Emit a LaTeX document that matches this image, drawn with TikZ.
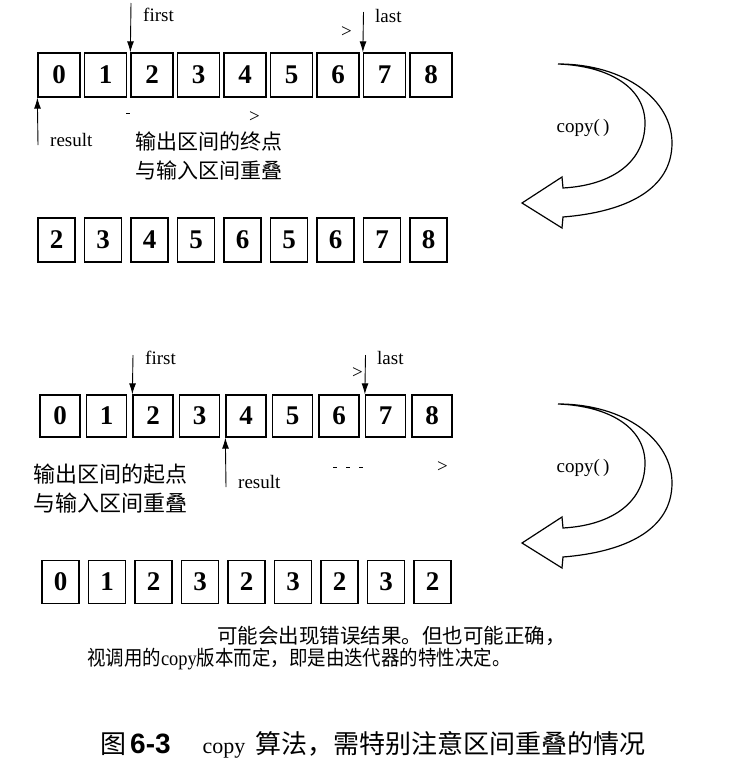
\documentclass[tikz,border=0pt]{standalone}
\usepackage{fontspec}
\usepackage{graphicx}
\setmainfont{Liberation Serif}
\newfontfamily\cjk{Noto Sans CJK SC}
\newfontfamily\hsans{Liberation Sans}
\usetikzlibrary{arrows.meta}
\begin{document}
\begin{tikzpicture}[x=1pt,y=-1pt,
  cell/.style={draw,line width=1.3pt,inner sep=0pt,minimum width=#1,minimum height=44pt,
    font=\fontsize{27}{27}\selectfont\bfseries},
  cell/.default=40pt,
  ptr/.style={line width=0.9pt,-{Latex[length=11pt,width=7pt]}},
  lbl/.style={font=\fontsize{19}{19}\selectfont,inner sep=0pt,anchor=west},
  cn/.style={font=\cjk\fontsize{21}{21}\selectfont,inner sep=0pt,anchor=west},
  note/.style={font=\fontsize{20.5}{20.5}\selectfont,inner sep=0pt,anchor=west},
  curved/.style={line width=1.2pt,fill=white,line join=miter}]
\useasboundingbox[fill=white] (0,0) rectangle (733,782);

% row 1
\foreach \v [count=\i from 0] in {0,1,2,3,4,5,6,7,8}
  \node[cell=42pt] (a\i) at ({59+46.5*\i},75) {\v};
% row 2
\foreach \v [count=\i from 0] in {2,3,4,5,6,5,6,7,8}
  \node[cell=37pt] (b\i) at ({56.5+46.5*\i},240) {\v};
% row 3
\foreach \v [count=\i from 0] in {0,1,2,3,4,5,6,7,8}
  \node[cell=40pt,minimum height=42pt] (c\i) at ({60+46.5*\i},416) {\v};
% row 4
\foreach \v [count=\i from 0] in {0,1,2,3,2,3,2,3,2}
  \node[cell=37pt,minimum height=43pt] (d\i) at ({60.5+46.5*\i},582) {\v};

% pointers row 1
\coordinate (f1) at (131,3);
\coordinate (l1) at (363.5,12);
\coordinate (r1) at (38,145);
\draw[ptr] (f1) -- (a2.north west);
\draw[ptr] (l1) -- (a7.north west);
\draw[ptr] (r1) -- (a0.south west);
\node[lbl] (tf1) at (143,15) {first};
\node[lbl] (tl1) at (375,16) {last};
\node[lbl] (gt1) at (341,32) {>};
\node[lbl] (tr1) at (50,140) {result};
\draw[line width=0.8pt] (126,113) -- (130,113);
\node[lbl] (gt1b) at (249,117) {>};
\node[cn] (c1a) at (135,141) {输出区间的终点};
\node[cn] (c1b) at (135,170) {与输入区间重叠};

% pointers row 3
\coordinate (f3) at (133,355);
\coordinate (l3) at (365.5,355);
\coordinate (r3) at (226,487);
\draw[ptr] (f3) -- (c2.north west);
\draw[ptr] (l3) -- (c7.north west);
\draw[ptr] (r3) -- (c4.south west);
\node[lbl] (tf3) at (145,358) {first};
\node[lbl] (tl3) at (377,358) {last};
\node[lbl] (gt3) at (352,373) {>};
\node[lbl] (tr3) at (238,482) {result};
\foreach \xx in {333,346,359} \draw[line width=0.8pt] (\xx,467) -- (\xx+4,467);
\node[lbl] (gt3b) at (437,467) {>};
\node[cn,font=\cjk\fontsize{22}{22}\selectfont] (c3a) at (33,474) {输出区间的起点};
\node[cn,font=\cjk\fontsize{22}{22}\selectfont] (c3b) at (33,503) {与输入区间重叠};

% curved copy arrows
\foreach \dy/\nm in {0/cpa,340/cpb}{
  \begin{scope}[yshift=-\dy pt]
    \draw[curved] (558,64) .. controls (625,64) and (672,100) .. (672,143)
      .. controls (672,190) and (625,212) .. (563,217)
      -- (562,228) -- (522,203) -- (562,177) -- (563,188)
      .. controls (615,185) and (645,160) .. (645,123)
      .. controls (645,88) and (610,66) .. (558,64) -- cycle;
    \node[font=\fontsize{19}{19}\selectfont,inner sep=0pt] (\nm) at (583,128) {copy(\,)};
  \end{scope}
}

% notes
\node[note] (n1) at (217,636) {{\cjk 可能会出现错误结果。但也可能正确，}};
\node[note] (n2) at (87,659) {\scalebox{0.9}[1]{{\cjk 视调用的}copy{\cjk 版本而定，即是由迭代器的特性决定。}}};

% caption
\node[inner sep=0pt,anchor=west] (cap) at (100,745)
  {{\cjk\fontsize{26}{26}\selectfont 图}\hspace{4pt}{\hsans\bfseries\fontsize{28}{28}\selectfont 6-3}\hspace{32pt}{\fontsize{22}{22}\selectfont copy}\hspace{10pt}{\cjk\fontsize{26}{26}\selectfont 算法，需特别注意区间重叠的情况}};
\end{tikzpicture}
\end{document}
